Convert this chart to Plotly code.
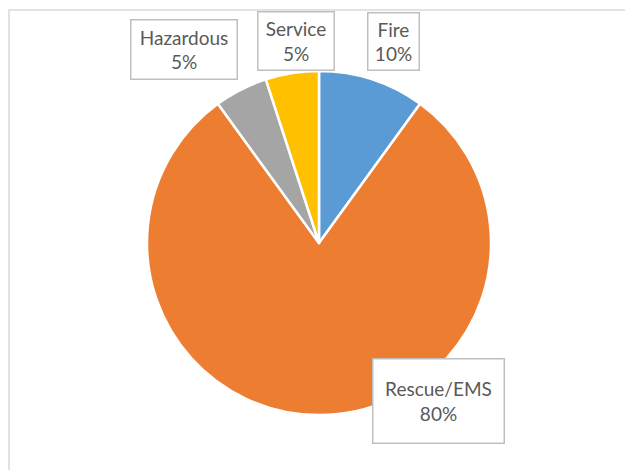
import plotly.graph_objects as go

labels = ["Fire", "Rescue/EMS", "Hazardous", "Service"]
values = [10, 80, 5, 5]
colors = ["#5B9BD5", "#ED7D31", "#A5A5A5", "#FFC000"]

W, H = 625, 470

def px(x):
    return x / W

def py(y):
    return 1 - y / H

fig = go.Figure(go.Pie(
    labels=labels,
    values=values,
    sort=False,
    direction="clockwise",
    rotation=0,
    marker=dict(colors=colors, line=dict(color="white", width=2.5)),
    textinfo="none",
    hoverinfo="label+percent",
    domain=dict(x=[px(147), px(491)], y=[py(415), py(71)]),
    showlegend=False,
))

# label box centers and sizes (pixels)
boxes = {
    "Fire": (393.5, 41.5, 53, 59),
    "Rescue/EMS": (438.5, 401, 133, 86),
    "Hazardous": (184, 49.5, 108, 61),
    "Service": (296, 41, 78, 60),
}
total = sum(values)
annotations = []
for lab, val in zip(labels, values):
    cx, cy, bw, bh = boxes[lab]
    annotations.append(dict(
        x=px(cx), y=py(cy), xref="paper", yref="paper",
        xanchor="center", yanchor="middle",
        text=f"{lab}<br>{round(100 * val / total)}%",
        showarrow=False,
        font=dict(family="Lato, Open Sans, sans-serif", size=19, color="#595959"),
        bgcolor="white", bordercolor="#BFBFBF", borderwidth=1.5, borderpad=0,
        width=bw - 3, height=bh - 3, align="center",
    ))

fig.update_layout(
    width=W, height=H,
    margin=dict(l=0, r=0, t=0, b=0),
    paper_bgcolor="white", plot_bgcolor="white",
    annotations=annotations,
    shapes=[dict(type="rect", xref="paper", yref="paper",
                 x0=px(9), x1=px(640), y0=py(10), y1=py(490),
                 line=dict(color="#D9D9D9", width=1.5))],
)

fig.write_html("out.html", config={"displayModeBar": False},
               post_script="document.body.style.margin='0';document.body.style.overflow='hidden';")
